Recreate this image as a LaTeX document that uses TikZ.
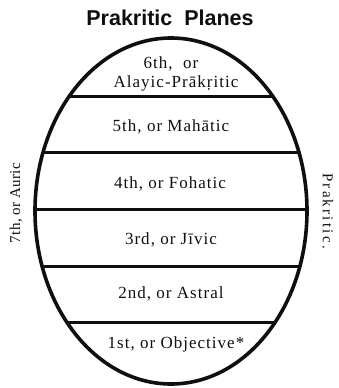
\documentclass[tikz,border=0pt]{standalone}
\usepackage{fontspec}
\usepackage{tikz}
\usetikzlibrary{positioning, calc}
\setmainfont{Liberation Serif}
\newfontfamily\planefont[LetterSpace=6]{Liberation Serif}
\newfontfamily\sidefont[LetterSpace=2]{Liberation Serif}
\newfontfamily\widesidefont[LetterSpace=15]{Liberation Serif}
\newfontfamily\titlefont{Liberation Sans}
\definecolor{plateink}{RGB}{15, 15, 15}

\tikzset{
    planelabel/.style={font=\planefont\fontsize{17}{19}\selectfont,
                       text=plateink, anchor=base, inner sep=0pt},
    sidelabel/.style={font=\sidefont\fontsize{15}{17}\selectfont,
                      text=plateink, inner sep=0pt},
    divider/.style={plateink, line width=3pt}
}

\begin{document}
\begin{tikzpicture}[x=1pt, y=-1pt]
    \useasboundingbox (0,0) rectangle (339,388);
    \coordinate (O) at (171,211);
    % title
    \node[font=\titlefont\bfseries\fontsize{21.5}{24}\selectfont,
          text=plateink, anchor=base] (title) at (170,25)
        {Prakritic\ \ Planes};
    % dividing lines between the planes
    \begin{scope}
        \clip (O) ellipse [x radius=136, y radius=173];
        \foreach \yy in {96,152,209,266,322}
            \draw[divider] (20,\yy) -- (320,\yy);
    \end{scope}
    \draw[plateink, line width=3.6pt] (O) ellipse [x radius=136, y radius=173];
    % the planes
    \node[planelabel] (sixth) at (171,68) {6th,\ \ or};
    \node[planelabel] (sixthb) at (176,87) {Alayic-Prākṛitic};
    \node[planelabel] (fifth) at (171,131) {5th, or Mahātic};
    \node[planelabel] (fourth) at (170,188) {4th, or Fohatic};
    \node[planelabel] (third) at (171,244) {3rd, or Jīvic};
    \node[planelabel] (second) at (171,298) {2nd, or Astral};
    \node[planelabel] (first) at (176,348) {1st, or Objective*};
    % side labels
    \node[sidelabel, rotate=90] (seventh) at (16,203) {7th, or Auric};
    \node[sidelabel, font=\widesidefont\fontsize{15}{17}\selectfont,
          rotate=-90] (prakritic) at (328,211) {Prakritic.};
\end{tikzpicture}
\end{document}
